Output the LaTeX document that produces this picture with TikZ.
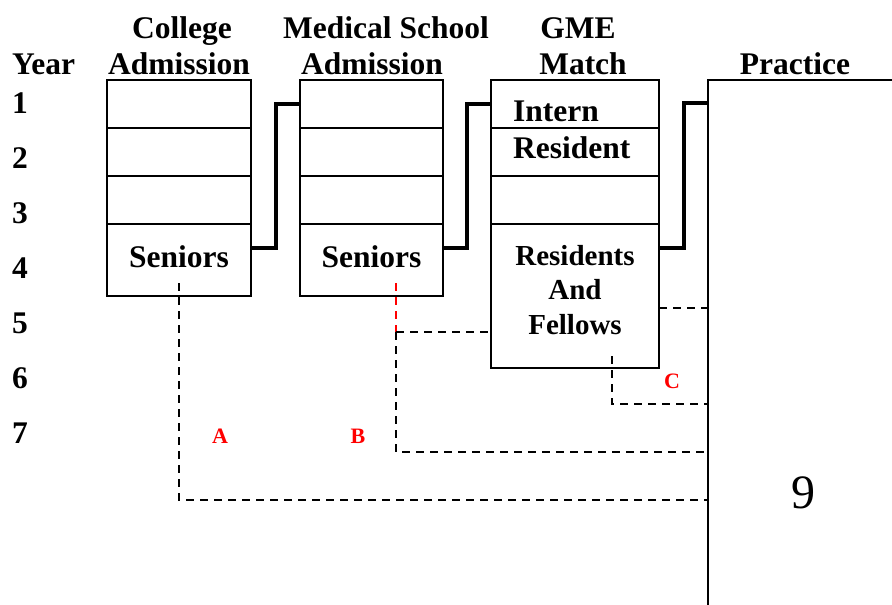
\documentclass[tikz,border=0pt]{standalone}
\usepackage{fontspec}
\setmainfont{Liberation Serif}
\usetikzlibrary{calc}

\tikzset{
    hdr/.style={font=\bfseries\fontsize{31.5}{36}\selectfont, inner sep=0pt, anchor=base},
    cell/.style={draw, line width=2pt, inner sep=0pt, outer sep=0pt},
    link/.style={line width=4.5pt},
    dashln/.style={line width=2pt, dash pattern=on 8pt off 6pt},
    tag/.style={font=\bfseries\fontsize{22}{24}\selectfont, text=red, inner sep=0pt, anchor=base}
}

\begin{document}
\begin{tikzpicture}[x=1pt,y=-1pt]
\useasboundingbox (0,0) rectangle (892,605);

% Year column
\node[hdr, anchor=base west] (year) at (12,74) {Year};
\foreach \n in {1,...,7}
    \node[hdr, anchor=base west] (yr\n) at (12,{113+55*(\n-1)}) {\n};

% Headings
\node[hdr] (hcol1) at (182,38) {College};
\node[hdr] (hcol2) at (179,74) {Admission};
\node[hdr] (hmed1) at (386,38) {Medical School};
\node[hdr] (hmed2) at (372,74) {Admission};
\node[hdr] (hgme1) at (578,38) {GME};
\node[hdr] (hgme2) at (583,74) {Match};
\node[hdr] (hprac) at (795,74) {Practice};

% College boxes
\foreach \r/\yc in {1/104,2/152,3/200}
    \node[cell, minimum width=144, minimum height=48] (c\r) at (179,\yc) {};
\node[cell, minimum width=144, minimum height=72] (c4) at (179,260) {};
\node[hdr] (sen1) at (179,267) {Seniors};

% Medical school boxes
\foreach \r/\yc in {1/104,2/152,3/200}
    \node[cell, minimum width=143, minimum height=48] (m\r) at (371.5,\yc) {};
\node[cell, minimum width=143, minimum height=72] (m4) at (371.5,260) {};
\node[hdr] (sen2) at (371.5,267) {Seniors};

% GME boxes
\foreach \r/\yc in {1/104,2/152,3/200}
    \node[cell, minimum width=168, minimum height=48] (g\r) at (575,\yc) {};
\node[cell, minimum width=168, minimum height=144] (g4) at (575,296) {};
\node[hdr, anchor=base west] (intern) at (513,121) {Intern};
\node[hdr, anchor=base west] (resid) at (513,158) {Resident};
\node[hdr, font=\bfseries\fontsize{29}{34}\selectfont] (rf1) at (575,265) {Residents};
\node[hdr, font=\bfseries\fontsize{29}{34}\selectfont] (rf2) at (575,299) {And};
\node[hdr, font=\bfseries\fontsize{29}{34}\selectfont] (rf3) at (575,334) {Fellows};

% Practice
\coordinate (prac) at (708,80);
\draw[line width=2pt] (708,605) -- (prac) -- (892,80);
\node[font=\fontsize{48}{50}\selectfont, inner sep=0pt, anchor=base] (nine) at (803,508) {9};

% Step connectors
\draw[link] ($(c4.north east)+(0,24)$) -- ++(25,0) |- (m1.west);
\draw[link] ($(m4.north east)+(0,24)$) -- ++(24,0) |- (g1.west);
\draw[link] ($(g4.north east)+(0,24)$) -- ++(25,0) |- ($(prac)+(0,23)$);

% Dashed paths to practice
\coordinate (pA) at (708,500);
\coordinate (pB) at (708,452);
\coordinate (pC) at (708,404);
\coordinate (pD) at (708,308);
\coordinate (bj) at ($(m4.south)+(24.5,36)$);
\draw[dashln] ($(c4.south)+(0,-13)$) |- (pA);
\draw[dashln, red] ($(m4.south)+(24.5,-13)$) -- (bj);
\draw[dashln] (bj) -- (g4.west |- bj);
\draw[dashln] (bj) |- (pB);
\draw[dashln] ($(g4.south)+(37,-12)$) |- (pC);
\draw[dashln] (g4.east |- pD) -- (pD);

% Labels
\node[tag] (la) at (220,443) {A};
\node[tag] (lb) at (358,443) {B};
\node[tag] (lc) at (672,388) {C};

\end{tikzpicture}
\end{document}
